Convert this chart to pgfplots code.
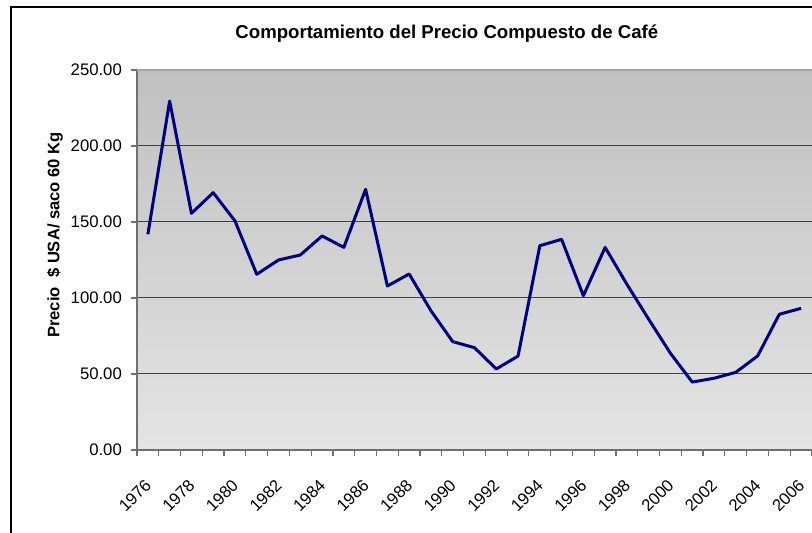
\documentclass[border=0pt]{standalone}
\usepackage{fontspec}
\setmainfont{Liberation Sans}
\usepackage{pgfplots}
\pgfplotsset{compat=1.18}
\definecolor{navyline}{HTML}{000080}
\definecolor{bgtop}{HTML}{C0C0C0}
\definecolor{bgbot}{HTML}{E4E4E4}
\definecolor{axgray}{HTML}{707070}
\begin{document}
\begin{tikzpicture}[x=1pt,y=1pt]
\useasboundingbox (0,0) rectangle (812,533);
\draw[line width=2pt] (11,-5) -- (11,526) -- (830,526);
\begin{axis}[
  at={(137pt,83pt)}, anchor=south west,
  scale only axis, width=675pt, height=380pt,
  xmin=1975.5, xmax=2006.5, ymin=0, ymax=250,
  axis x line*=bottom, axis y line*=left,
  axis background/.style={top color=bgtop, bottom color=bgbot},
  axis line style={draw=axgray, line width=1.5pt},
  tick align=outside, major tick length=0pt, minor tick length=6pt,
  tick style={draw=axgray, line width=1.2pt},
  xtick={1976,1978,...,2006},
  minor xtick={1975.5,1976.5,...,2006.5},
  xticklabel={\fontsize{16.7}{18}\selectfont\pgfmathprintnumber[fixed,precision=0,1000 sep={},assume math mode=true]{\tick}},
  xticklabel style={xshift=-4pt, yshift=-28pt, rotate=45, anchor=north east, inner sep=0pt},
  ytick={0,50,...,250},
  minor ytick={0,50,...,250},
  ymajorgrids,
  major grid style={draw=black!75, line width=1pt},
  yticklabel={\fontsize{16.7}{18}\selectfont\pgfmathprintnumber[fixed,fixed zerofill,precision=2,1000 sep={},assume math mode=true]{\tick}},
  yticklabel style={anchor=east, inner sep=0pt, xshift=-15pt},
  title={Comportamiento del Precio Compuesto de Café},
  title style={font=\bfseries\fontsize{18.6}{20}\selectfont, at={(axis description cs:0.459,1)}, anchor=center, yshift=30pt},
  ylabel={Precio\ \ \$ USA/ saco 60 Kg},
  ylabel style={font=\bfseries\fontsize{16.6}{18}\selectfont, at={(axis description cs:-0.1215,0.566)}, anchor=center, rotate=0},
]
\draw[draw=black!35, line width=1.4pt] (rel axis cs:0,1) -- (rel axis cs:1,1);
\addplot[navyline, line width=3pt, line join=round] coordinates {
(1976,141.9) (1977,229.6) (1978,155.7) (1979,169.3) (1980,150.7)
(1981,115.6) (1982,125.0) (1983,128.3) (1984,140.8) (1985,133.3)
(1986,171.5) (1987,107.9) (1988,115.8) (1989,91.6) (1990,71.3)
(1991,67.3) (1992,53.3) (1993,61.8) (1994,134.4) (1995,138.6)
(1996,101.5) (1997,133.3) (1998,109.0) (1999,86.0) (2000,63.6)
(2001,44.7) (2002,47.2) (2003,51.1) (2004,61.8) (2005,89.3)
(2006,93.2)
};
\end{axis}
\end{tikzpicture}
\end{document}
